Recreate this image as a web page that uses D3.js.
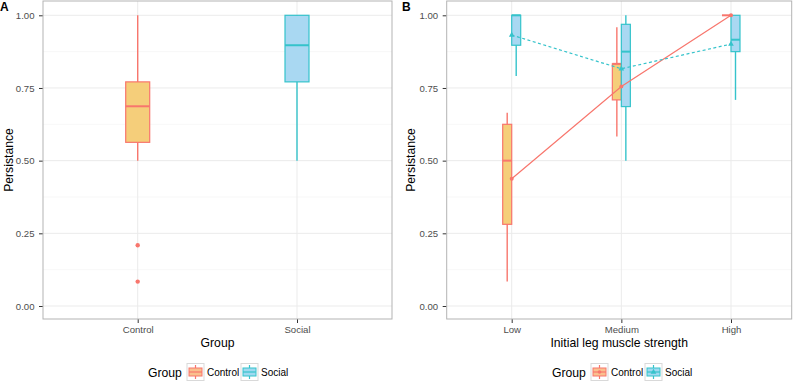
<!DOCTYPE html>
<html>
<head>
<meta charset="utf-8">
<script src="https://cdn.jsdelivr.net/npm/d3@7"></script>
<style>
  body { margin: 0; background: #fff; }
  svg { display: block; font-family: "Liberation Sans", Arial, sans-serif; }
</style>
</head>
<body>
<svg id="chart" width="797" height="381"></svg>
<script>
// ---- data ----
const groups = ["Control", "Social"];
const strengths = ["Low", "Medium", "High"];
const yTicks = [0, 0.25, 0.5, 0.75, 1.0];
const yMinor = [0.125, 0.375, 0.625, 0.875];

// panel A boxplots: [lower whisker, q1, median, q3, upper whisker]
const boxA = {
  Control: [0.5, 0.563, 0.687, 0.771, 1.0],
  Social: [0.5, 0.771, 0.897, 1.0, 1.0]
};
const outliersA = [{ group: "Control", value: 0.209 }, { group: "Control", value: 0.084 }];

// panel B boxplots per strength level
const boxBControl = [
  [0.084, 0.281, 0.5, 0.625, 0.665],
  [0.583, 0.709, 0.833, 0.833, 0.959],
  [1.0, 1.0, 1.0, 1.0, 1.0]
];
const boxBSocial = [
  [0.791, 0.897, 1.0, 1.0, 1.0],
  [0.5, 0.686, 0.875, 0.969, 1.0],
  [0.709, 0.875, 0.916, 1.0, 1.0]
];
const meanControl = [0.438, 0.755, 1.0];
const meanSocial = [0.932, 0.816, 0.901];

// ---- styling ----
const stroke = { Control: "#F8766D", Social: "#35C3CB" };
const fill = { Control: "#F5CE7A", Social: "#A9D8F2" };
const keyFill = { Control: "#F9C08E", Social: "#9FD9F0" };
const svg = d3.select("#chart");

function panel(opts) {
  const { x0, x1, y0, y1, cats, catRange } = opts;
  const g = svg.append("g");
  const y = d3.scaleLinear().domain([0, 1]).range([306, 15.3]);
  const x = d3.scalePoint().domain(cats).range(catRange).padding(0);

  // grid
  g.selectAll(".minor").data(yMinor).enter().append("line")
    .attr("x1", x0).attr("x2", x1).attr("y1", d => y(d)).attr("y2", d => y(d))
    .attr("stroke", "#f4f4f4").attr("stroke-width", 0.6);
  g.selectAll(".major").data(yTicks).enter().append("line")
    .attr("x1", x0).attr("x2", x1).attr("y1", d => y(d)).attr("y2", d => y(d))
    .attr("stroke", "#ebebeb").attr("stroke-width", 1);
  g.selectAll(".vgrid").data(cats).enter().append("line")
    .attr("x1", d => x(d)).attr("x2", d => x(d)).attr("y1", y0).attr("y2", y1)
    .attr("stroke", "#ebebeb").attr("stroke-width", 1);

  // axes
  const ay = g.append("g").attr("transform", `translate(${x0},0)`)
    .call(d3.axisLeft(y).tickValues(yTicks).tickFormat(d3.format(".2f")).tickSize(4).tickPadding(4.5));
  const ax = g.append("g").attr("transform", `translate(0,${y1})`)
    .call(d3.axisBottom(x).tickSize(4).tickPadding(3));
  [ay, ax].forEach(a => {
    a.select(".domain").remove();
    a.selectAll(".tick line").attr("stroke", "#333");
    a.selectAll(".tick text").attr("fill", "#4d4d4d").style("font-size", "9.6px");
  });

  return { g, x, y };
}

function drawBox(g, cx, w, s, grp, y) {
  g.append("line").attr("x1", cx).attr("x2", cx).attr("y1", y(s[0])).attr("y2", y(s[4]))
    .attr("stroke", stroke[grp]).attr("stroke-width", 1.4);
  g.append("rect").attr("x", cx - w / 2).attr("width", w)
    .attr("y", y(s[3])).attr("height", Math.max(0, y(s[1]) - y(s[3])))
    .attr("fill", fill[grp]).attr("stroke", stroke[grp]).attr("stroke-width", 1.2);
  g.append("line").attr("x1", cx - w / 2).attr("x2", cx + w / 2).attr("y1", y(s[2])).attr("y2", y(s[2]))
    .attr("stroke", stroke[grp]).attr("stroke-width", 2);
}

function border(x0, x1, y0, y1) {
  svg.append("rect").attr("x", x0).attr("y", y0).attr("width", x1 - x0).attr("height", y1 - y0)
    .attr("fill", "none").attr("stroke", "#b3b3b3").attr("stroke-width", 1);
}

function texts(opts) {
  const { label, lx, titleX, x0, x1, y0, y1, xTitle } = opts;
  svg.append("text").attr("x", lx).attr("y", 11).text(label)
    .style("font-size", "12px").style("font-weight", "bold");
  svg.append("text").attr("transform", `translate(${titleX},${(y0 + y1) / 2}) rotate(-90)`)
    .attr("text-anchor", "middle").text("Persistance").style("font-size", "12.2px");
  svg.append("text").attr("x", (x0 + x1) / 2).attr("y", 347).attr("text-anchor", "middle")
    .text(xTitle).style("font-size", "12.2px");
}

function legend(x, withMean) {
  const lg = svg.append("g").attr("transform", `translate(${x},372)`);
  lg.append("text").attr("x", 0).attr("y", 4.5).text("Group").style("font-size", "12.2px");
  let cx = 39;
  groups.forEach(grp => {
    const k = lg.append("g").attr("transform", `translate(${cx},-8.5)`);
    k.append("rect").attr("width", 17).attr("height", 17).attr("fill", "#fff").attr("stroke", "#d9d9d9");
    k.append("line").attr("x1", 8.5).attr("x2", 8.5).attr("y1", 1.5).attr("y2", 15.5)
      .attr("stroke", stroke[grp]).attr("stroke-width", 1.2);
    k.append("rect").attr("x", 2).attr("y", 4.5).attr("width", 13).attr("height", 8)
      .attr("fill", keyFill[grp]).attr("stroke", stroke[grp]).attr("stroke-width", 1);
    k.append("line").attr("x1", 2).attr("x2", 15).attr("y1", 8.5).attr("y2", 8.5)
      .attr("stroke", stroke[grp]).attr("stroke-width", 1.2);
    if (withMean) {
      if (grp === "Control") {
        k.append("circle").attr("cx", 8.5).attr("cy", 8.5).attr("r", 1.8).attr("fill", stroke[grp]);
      } else {
        k.append("path").attr("transform", "translate(8.5,8.5)")
          .attr("d", d3.symbol(d3.symbolTriangle, 14)).attr("fill", stroke[grp]);
      }
    }
    lg.append("text").attr("x", cx + 20).attr("y", 4).text(grp).style("font-size", "10px");
    cx += 54;
  });
}

// ---- Panel A ----
{
  const x0 = 43, x1 = 392, y0 = 1, y1 = 319;
  const { g, x, y } = panel({ x0, x1, y0, y1, cats: groups, catRange: [137.7, 297] });
  groups.forEach(grp => drawBox(g, x(grp), 24, boxA[grp], grp, y));
  g.selectAll(".out").data(outliersA).enter().append("circle")
    .attr("cx", d => x(d.group)).attr("cy", d => y(d.value)).attr("r", 2.2)
    .attr("fill", stroke.Control);
  border(x0, x1, y0, y1);
  texts({ label: "A", lx: 0, titleX: 13, x0, x1, y0, y1, xTitle: "Group" });
  legend(148, false);
}

// ---- Panel B ----
{
  const x0 = 446.7, x1 = 791.7, y0 = 1, y1 = 319;
  const { g, x, y } = panel({ x0, x1, y0, y1, cats: strengths, catRange: [511.7, 731] });
  const dodge = d3.scaleBand().domain(groups).range([-9, 9]);
  const boxes = { Control: boxBControl, Social: boxBSocial };
  groups.forEach(grp => {
    strengths.forEach((s, i) => {
      drawBox(g, x(s) + dodge(grp) + dodge.bandwidth() / 2, dodge.bandwidth(), boxes[grp][i], grp, y);
    });
  });
  const line = d3.line().x((d, i) => x(strengths[i])).y(d => y(d));
  g.append("path").datum(meanControl).attr("d", line).attr("fill", "none")
    .attr("stroke", stroke.Control).attr("stroke-width", 1.2);
  g.append("path").datum(meanSocial).attr("d", line).attr("fill", "none")
    .attr("stroke", stroke.Social).attr("stroke-width", 1.2).attr("stroke-dasharray", "3,2.5");
  g.selectAll(".mc").data(meanControl).enter().append("circle")
    .attr("cx", (d, i) => x(strengths[i])).attr("cy", d => y(d)).attr("r", 2)
    .attr("fill", stroke.Control);
  g.selectAll(".ms").data(meanSocial).enter().append("path")
    .attr("transform", (d, i) => `translate(${x(strengths[i])},${y(d)})`)
    .attr("d", d3.symbol(d3.symbolTriangle, 14)).attr("fill", stroke.Social);
  border(x0, x1, y0, y1);
  texts({ label: "B", lx: 402, titleX: 415, x0, x1, y0, y1, xTitle: "Initial leg muscle strength" });
  legend(552, true);
}
</script>
</body>
</html>
